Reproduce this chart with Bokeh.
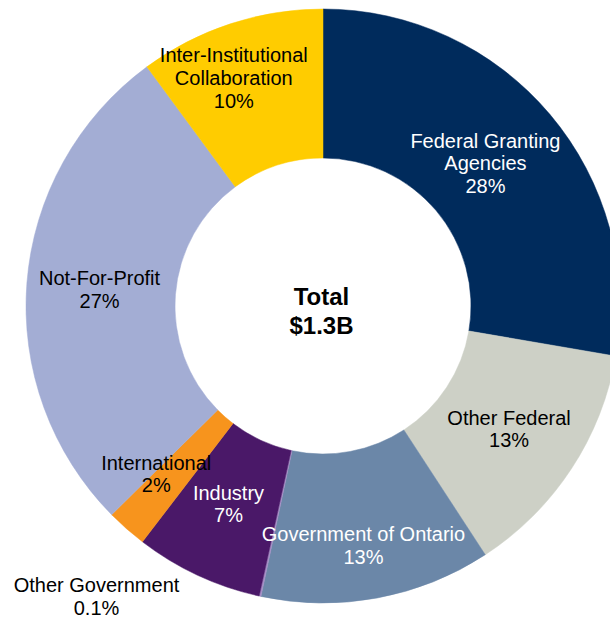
import math
from bokeh.plotting import figure
from bokeh.models import Range1d, ColumnDataSource
from bokeh.embed import file_html
from bokeh.resources import INLINE
from bokeh.core.properties import value

# ---- data ----
categories = ["Federal Granting Agencies", "Other Federal", "Government of Ontario",
              "Other Government", "Industry", "International", "Not-For-Profit",
              "Inter-Institutional Collaboration"]
shares = [27.7, 13.1, 12.55, 0.1, 6.95, 2.2, 27.3, 10.1]
pct_labels = ["28%", "13%", "13%", "0.1%", "7%", "2%", "27%", "10%"]
label_lines = [["Federal Granting", "Agencies"], ["Other Federal"], ["Government of Ontario"],
               ["Other Government"], ["Industry"], ["International"], ["Not-For-Profit"],
               ["Inter-Institutional", "Collaboration"]]
total_lines = ["Total", "$1.3B"]

# ---- styles / layout ----
colors = ["#002B5C", "#CDD0C6", "#6B87A8", "#A48CC4", "#4A1868", "#F7941D", "#A3ADD4", "#FFCC00"]
text_colors = ["white", "black", "white", "black", "white", "black", "black", "black"]
label_radius = [216.2, 223.1, 243.2, 368.4, 219.3, 236.7, 224.1, 244.7]
label_turn = [-1.16, 0.2, 0.95, 25.7, 0.6, 3.4, -0.2, -3.2]
cx, cy = 322.5, 313.5
R_out, R_in = 297, 148
line_h = 22.7
FONT = "Liberation Sans"

total = sum(shares)
starts, ends = [], []
acc = 0.0
for s in shares:
    starts.append(acc / total)
    acc += s
    ends.append(acc / total)

src = ColumnDataSource(dict(
    cat=categories,
    start=[math.pi / 2 - 2 * math.pi * f for f in starts],
    end=[math.pi / 2 - 2 * math.pi * f for f in ends],
    color=colors,
))

p = figure(width=610, height=619, x_range=Range1d(0, 610), y_range=Range1d(0, 619),
           output_backend="svg", toolbar_location=None, min_border=0,
           x_axis_type=None, y_axis_type=None)
p.xgrid.visible = False
p.ygrid.visible = False
p.outline_line_color = None
p.background_fill_color = "white"
p.border_fill_color = "white"

p.annular_wedge(x=cx, y=cy, inner_radius=R_in, outer_radius=R_out,
                start_angle="start", end_angle="end", direction="clock",
                fill_color="color", line_color="color", line_width=0.5, source=src)

xs, ys, texts, cols = [], [], [], []
for i in range(len(shares)):
    mid = (starts[i] + ends[i]) / 2 * 360 + label_turn[i]
    th = math.radians(90 - mid)
    lx = cx + label_radius[i] * math.cos(th)
    ly = cy + label_radius[i] * math.sin(th)
    lines = label_lines[i] + [pct_labels[i]]
    n = len(lines)
    for k, t in enumerate(lines):
        off = (k - (n - 1) / 2) * line_h
        xs.append(lx)
        ys.append(ly - off)
        texts.append(t)
        cols.append(text_colors[i])

lab_src = ColumnDataSource(dict(x=xs, y=ys, text=texts, color=cols))
p.text(x="x", y="y", text="text", text_color="color", source=lab_src,
       text_align="center", text_baseline="middle",
       text_font=value(FONT), text_font_size="20px")

tot_h = 29.1
tys = [cy + 9.3 - k * tot_h for k in range(len(total_lines))]
p.text(x=[321.0] * len(total_lines), y=tys, text=total_lines,
       text_align="center", text_baseline="middle", text_color="black",
       text_font=value(FONT), text_font_size="24px", text_font_style="bold")

open("out.html", "w").write(file_html(p, INLINE))
